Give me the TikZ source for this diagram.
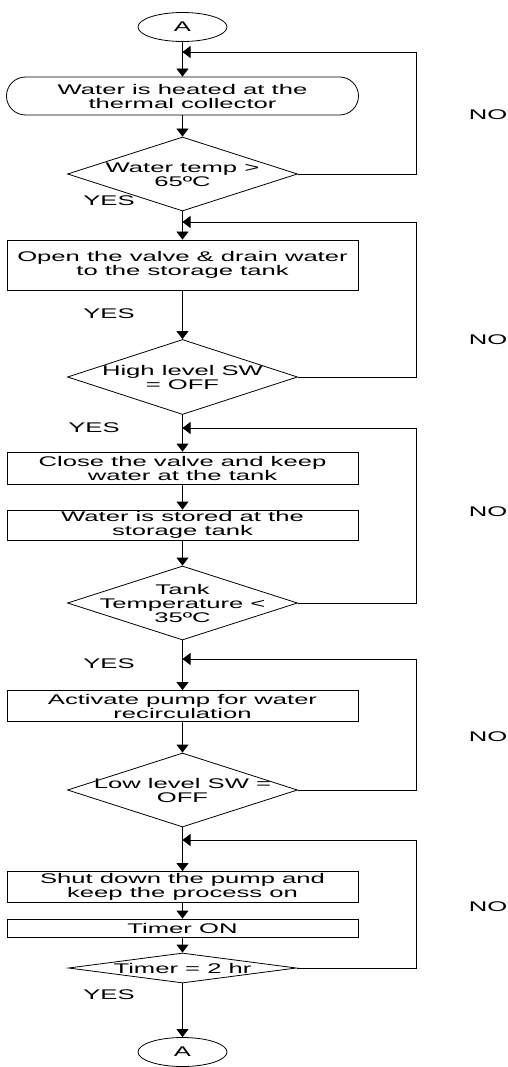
\documentclass[tikz,border=0pt]{standalone}
\usepackage{fontspec}
\newfontfamily\flowfont[FakeStretch=1.83]{Liberation Sans}
\usetikzlibrary{shapes.geometric,arrows.meta}
\begin{document}
\begin{tikzpicture}[x=1pt,y=-1pt,
  every node/.style={font=\flowfont\fontsize{14}{14}\selectfont},
  base/.style={draw, line width=0.8pt, inner sep=0pt},
  procbox/.style={base, rectangle, minimum width=351pt, align=center},
  termbox/.style={base, rectangle, rounded corners=19pt, minimum width=352pt, minimum height=38pt, align=center},
  decbox/.style={base, diamond, minimum width=230pt},
  conn/.style={base, ellipse, minimum width=89pt, minimum height=29pt},
  txt/.style={align=center, inner sep=0pt},
  flow/.style={line width=0.8pt, -{Triangle[width=12pt,length=8pt]}},
  lbl/.style={inner sep=0pt}]
\useasboundingbox (0,0) rectangle (507,1067);
% nodes
\node[conn] (start) at (182.5,27) {A};
\node[termbox] (p1) at (182.5,96) {Water is heated at the\\thermal collector};
\node[decbox, minimum height=74pt] (d1) at (182.5,174) {};
\node[txt] (t1) at (182.5,175) {Water temp >\\65ºC};
\node[procbox, minimum height=50pt] (p2) at (182.5,265) {Open the valve \& drain water\\to the storage tank};
\node[decbox, minimum height=75pt] (d2) at (182.5,377) {};
\node[txt] (t2) at (182.5,377) {High level SW\\= OFF};
\node[procbox, minimum height=32pt] (p3) at (182.5,468) {Close the valve and keep\\water at the tank};
\node[procbox, minimum height=30pt] (p4) at (182.5,525) {Water is stored at the\\storage tank};
\node[decbox, minimum height=74pt] (d3) at (182.5,603) {};
\node[txt] (t3) at (182.5,603) {Tank\\Temperature <\\35ºC};
\node[procbox, minimum height=31pt] (p5) at (182.5,706) {Activate pump for water\\recirculation};
\node[decbox, minimum height=74pt] (d4) at (182.5,790) {};
\node[txt] (t4) at (182.5,790) {Low level SW =\\OFF};
\node[procbox, minimum height=31pt] (p6) at (182.5,887) {Shut down the pump and\\keep the process on};
\node[procbox, minimum height=18pt] (p7) at (182.5,928) {Timer ON};
\node[decbox, minimum width=228pt, minimum height=30pt] (d5) at (182.5,968) {};
\node[txt] (t5) at (182.5,968) {Timer = 2 hr};
\node[conn] (end) at (182.5,1052) {A};
% labels
\node[lbl] (y1) at (109,201) {YES};
\node[lbl] (y2) at (109,314) {YES};
\node[lbl] (y3) at (94,428) {YES};
\node[lbl] (y4) at (109,664) {YES};
\node[lbl] (y5) at (109,995) {YES};
\node[lbl] (n1) at (488,115) {NO};
\node[lbl] (n2) at (488,340) {NO};
\node[lbl] (n3) at (488,512) {NO};
\node[lbl] (n4) at (488,737) {NO};
\node[lbl] (n5) at (488,907) {NO};
% main flow
\draw[flow] (start) -- (p1);
\draw[flow] (p1) -- (d1);
\draw[flow] (d1) -- (p2);
\draw[flow] (p2) -- (d2);
\draw[flow] (d2) -- (p3);
\draw[flow] (p3) -- (p4);
\draw[flow] (p4) -- (d3);
\draw[flow] (d3) -- (p5);
\draw[flow] (p5) -- (d4);
\draw[flow] (d4) -- (p6);
\draw[flow] (p6) -- (p7);
\draw[flow] (p7) -- (d5);
\draw[flow] (d5) -- (end);
% loops
\coordinate (c1) at (416,52);  \coordinate (j1) at (182.5,52);
\coordinate (c2) at (416,222); \coordinate (j2) at (182.5,222);
\coordinate (c3) at (416,428); \coordinate (j3) at (182.5,428);
\coordinate (c4) at (416,659); \coordinate (j4) at (182.5,659);
\coordinate (c5) at (416,840); \coordinate (j5) at (182.5,840);
\draw[flow] (d1.east) -| (c1) -- (j1);
\draw[flow] (d2.east) -| (c2) -- (j2);
\draw[flow] (d3.east) -| (c3) -- (j3);
\draw[flow] (d4.east) -| (c4) -- (j4);
\draw[flow] (d5.east) -| (c5) -- (j5);
\end{tikzpicture}
\end{document}
